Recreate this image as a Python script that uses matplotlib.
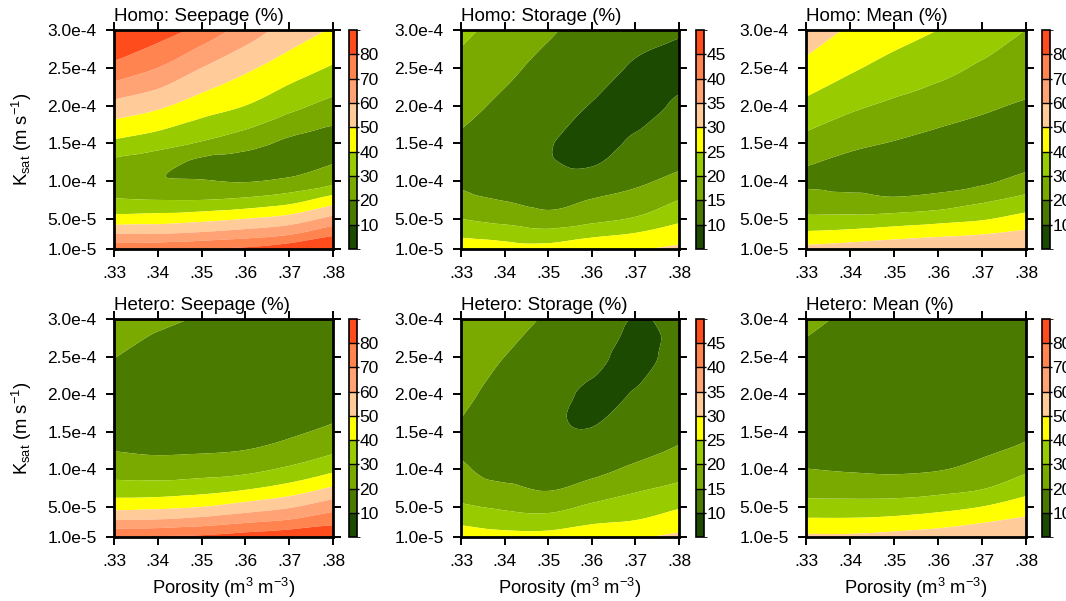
import numpy as np
import matplotlib
matplotlib.use('Agg')
import matplotlib.pyplot as plt
from matplotlib.colors import ListedColormap, BoundaryNorm
import matplotlib.colorbar as mcolorbar
import matplotlib.tri as mtri

plt.rcParams['font.family'] = ['Liberation Sans', 'DejaVu Sans']
plt.rcParams['mathtext.fontset'] = 'custom'
plt.rcParams['mathtext.rm'] = 'Liberation Sans'
plt.rcParams['mathtext.it'] = 'Liberation Sans:italic'
plt.rcParams['mathtext.bf'] = 'Liberation Sans:bold'

# ---------------- data ----------------
porosity = [0.33, 0.34, 0.35, 0.36, 0.37, 0.38]
ksat = [1e-5, 3e-5, 5e-5, 7.5e-5, 1e-4, 1.25e-4, 1.5e-4, 2e-4, 2.5e-4, 3e-4]

# rows follow ksat (bottom -> top), columns follow porosity
homo_seepage = [
    [77, 78, 80, 82, 87, 92],
    [60, 60, 62, 65, 69, 78],
    [44, 45, 47, 50, 54, 63],
    [31, 30, 30, 32, 36, 45],
    [23, 21, 20.5, 19.5, 22, 27],
    [28, 24, 18, 16, 15, 19.5],
    [38, 34, 29, 24, 18, 16],
    [57, 52, 45, 40, 33, 27],
    [77, 70, 60, 52, 45, 39],
    [92, 85, 77, 66, 56, 49],
]
homo_storage = [
    [28, 27, 27, 28, 29.5, 31],
    [24, 23, 21.8, 23.9, 25.3, 27.5],
    [20, 18.4, 16.8, 18.5, 20.5, 24],
    [16.6, 14.8, 13.5, 15.2, 17, 20],
    [14, 11.5, 11.5, 12, 14, 16.5],
    [12.5, 11, 10.3, 9.5, 12.5, 14],
    [14, 12, 10.3, 8, 11, 13],
    [16.6, 14, 12, 9.8, 8, 10.9],
    [18.8, 16.2, 13.5, 12, 9.5, 8.5],
    [21, 18.4, 15.7, 13, 11.5, 10.5],
]
homo_mean = [
    [53, 55, 57, 58, 59, 61],
    [42, 43.5, 45.8, 47.8, 49.6, 52.4],
    [32, 32.5, 34.2, 36.4, 39, 43.7],
    [24.7, 23.5, 21.5, 23.5, 28.2, 33],
    [18, 16, 15, 16, 18, 23.7],
    [21, 18, 16, 15, 14, 17],
    [26.5, 22, 19.5, 17.5, 16, 15],
    [37.6, 32, 28.2, 24.3, 21.5, 19],
    [47.5, 41.5, 36.7, 33.5, 28.5, 25.5],
    [55, 49, 44, 40, 36, 30],
]
hetero_seepage = [
    [80.5, 81, 82, 85, 88, 90],
    [62, 62.8, 65.4, 69, 72.3, 77.4],
    [47, 48, 50, 54.5, 59, 66.3],
    [34, 34, 35.75, 38.75, 43.75, 51.25],
    [26, 25.5, 25.9, 27.4, 31.8, 38],
    [19.8, 18.5, 19, 20.2, 23.6, 28.5],
    [15, 14, 14, 14.5, 18.5, 21.9],
    [16, 14.5, 14, 13.5, 14, 16],
    [20.2, 17, 16, 15, 14.5, 15],
    [23, 21.5, 19.5, 18, 17, 17],
]
hetero_storage = [
    [28, 27, 27, 28.5, 29.5, 31],
    [24.2, 22.7, 22.4, 24.4, 25.4, 27.7],
    [20.7, 19.3, 18.5, 20.9, 22.6, 24.6],
    [18.1, 16.1, 14.5, 16.8, 19.2, 21],
    [15.9, 12.5, 12, 13.5, 16, 18.1],
    [14.5, 11.5, 10.5, 11.5, 13.5, 15.6],
    [14.5, 11.5, 10.5, 10.2, 12, 14],
    [16.3, 13, 11.5, 9.3, 10.3, 12.5],
    [17.5, 15, 13, 11.5, 8.5, 12],
    [19, 17, 14.5, 13, 9.8, 11.5],
]
hetero_mean = [
    [52, 52, 53.5, 55, 57, 58],
    [42.5, 42.5, 43.8, 46.2, 49.4, 52.5],
    [33.9, 33.9, 34.4, 36.7, 40.2, 45.3],
    [26.2, 25.6, 25.5, 26.7, 29.4, 36.2],
    [20.2, 19.2, 18.5, 19.5, 22.8, 28.3],
    [17, 16, 15.5, 16, 18.5, 22],
    [15.5, 14, 13.5, 14, 15, 18.5],
    [16, 14.5, 14, 14, 14.5, 16],
    [18.5, 16.5, 15.5, 15, 15, 15.5],
    [21.5, 19, 17.5, 16.5, 16, 16],
]

titles = ['Homo: Seepage (%)', 'Homo: Storage (%)', 'Homo: Mean (%)',
          'Hetero: Seepage (%)', 'Hetero: Storage (%)', 'Hetero: Mean (%)']

x_ticks = [0.33, 0.34, 0.35, 0.36, 0.37, 0.38]
x_ticklabels = ['.33', '.34', '.35', '.36', '.37', '.38']
y_ticks = [1e-5, 5e-5, 1e-4, 1.5e-4, 2e-4, 2.5e-4, 3e-4]
y_ticklabels = ['1.0e-5', '5.0e-5', '1.0e-4', '1.5e-4', '2.0e-4', '2.5e-4', '3.0e-4']

pct_levels = [10, 20, 30, 40, 50, 60, 70, 80]
storage_levels = [10, 15, 20, 25, 30, 35, 40, 45]

band_colors = ['#1c4a00', '#4a7a00', '#7aaa00', '#99cc00', '#ffff00',
               '#ffcc99', '#ffa274', '#ff8450', '#ff4c1c']

# ---------------- layout ----------------
W, H = 1066, 601
fig = plt.figure(figsize=(W / 100, H / 100), dpi=100)

col_x = [114, 461, 806]
col_w = [219, 218, 220]
row_top = [30, 319]
row_h = [219, 218]
cbar_x = [349, 696, 1042]
cbar_w = 8

fields = [homo_seepage, homo_storage, homo_mean,
          hetero_seepage, hetero_storage, hetero_mean]

# structured triangulation of the data grid
nx, ny = len(porosity), len(ksat)
X, Y = np.meshgrid(porosity, ksat)
tris = []
for j in range(ny - 1):
    for i in range(nx - 1):
        a = j * nx + i
        b = a + 1
        cc = a + nx
        d = cc + 1
        tris.append([a, b, d])
        tris.append([a, d, cc])
triang = mtri.Triangulation(X.ravel(), Y.ravel(), np.array(tris))
refiner = mtri.UniformTriRefiner(triang)
cmap = ListedColormap(band_colors)

for i, (field, title) in enumerate(zip(fields, titles)):
    r, c = divmod(i, 3)
    is_storage = (c == 1)
    lev = storage_levels if is_storage else pct_levels
    step = lev[1] - lev[0]
    ax = fig.add_axes([col_x[c] / W, 1 - (row_top[r] + row_h[r]) / H,
                       col_w[c] / W, row_h[r] / H])
    Z = np.array(field, dtype=float).ravel()
    interp = mtri.CubicTriInterpolator(triang, Z, kind='geom')
    tri_f, z_f = refiner.refine_field(Z, triinterpolator=interp, subdiv=4)
    ax.tricontourf(tri_f, z_f, levels=[-1000] + lev + [1000],
                   colors=band_colors, antialiased=True)
    ax.set_xlim(0.33, 0.38)
    ax.set_ylim(1e-5, 3e-4)
    ax.set_xticks(x_ticks)
    ax.set_xticklabels(x_ticklabels)
    ax.set_yticks(y_ticks)
    ax.set_yticklabels(y_ticklabels)
    ax.tick_params(direction='out', top=True, right=True, length=5.5,
                   width=1.4, labelsize=12.5, pad=7, color='black')
    for sp in ax.spines.values():
        sp.set_linewidth(2.0)
    ax.set_title(title, loc='left', fontsize=13.5, pad=6.5)

    # colorbar
    cax = fig.add_axes([cbar_x[c] / W, 1 - (row_top[r] + row_h[r]) / H,
                        cbar_w / W, row_h[r] / H])
    bounds = [lev[0] - step] + lev + [lev[-1] + step]
    norm = BoundaryNorm(bounds, cmap.N)
    cb = mcolorbar.ColorbarBase(cax, cmap=cmap, norm=norm, boundaries=bounds,
                                ticks=lev, spacing='uniform', drawedges=True)
    cb.outline.set_linewidth(1.2)
    cb.dividers.set_linewidth(1.0)
    cb.ax.tick_params(length=1.5, width=1, labelsize=12.5, pad=0.3)
    cb.ax.set_yticklabels([str(v) for v in lev])

# axis labels
for r in range(2):
    yc = 1 - (row_top[r] + row_h[r] / 2) / H
    fig.text(22 / W, yc, r'K$_{\rm sat}$ (m s$^{-1}$)', rotation=90,
             ha='center', va='center', fontsize=13.2)
for c in range(3):
    xc = (col_x[c] + col_w[c] / 2) / W
    fig.text(xc, 1 - 588 / H, r'Porosity (m$^3$ m$^{-3}$)', ha='center',
             va='center', fontsize=13.2)

fig.savefig('out.png', dpi=100)
